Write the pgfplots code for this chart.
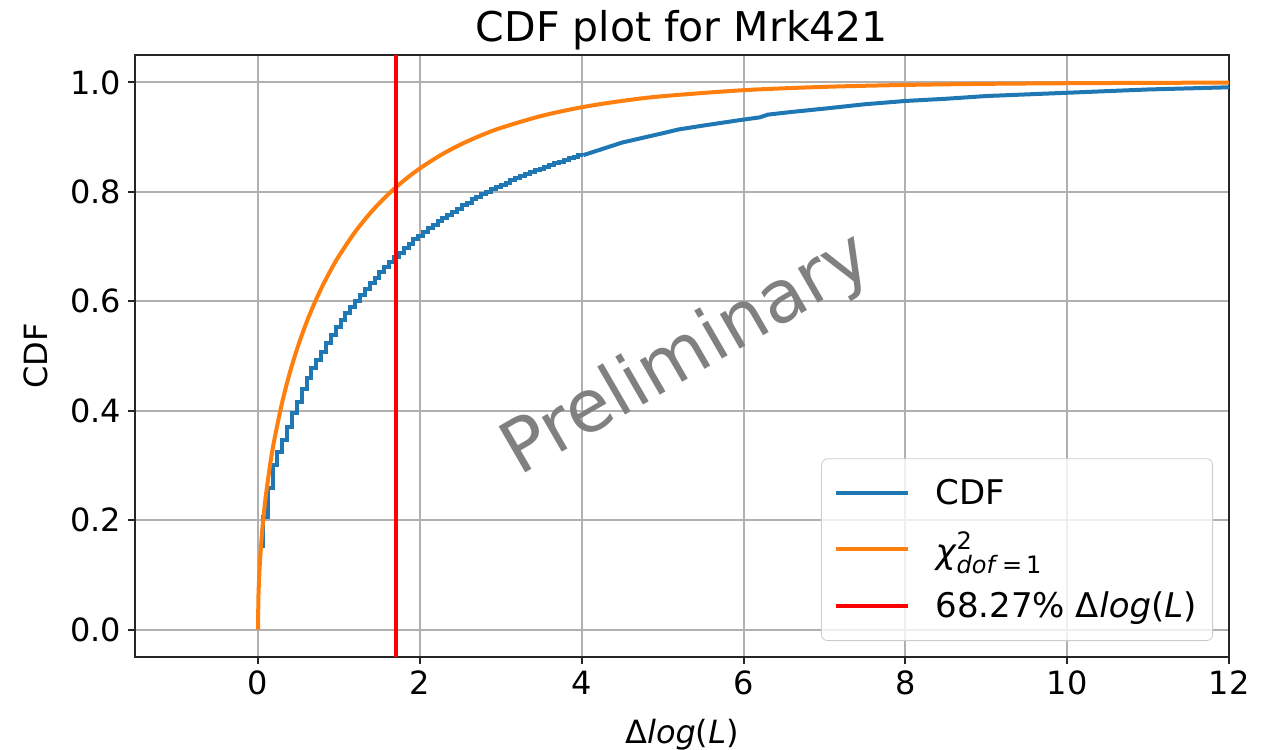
\documentclass[border=0pt]{standalone}
\usepackage{fontspec}
\setmainfont{DejaVu Sans}
\usepackage{pgfplots}
\pgfplotsset{compat=1.18}
\usetikzlibrary{calc}
\definecolor{mplblue}{HTML}{1F77B4}
\definecolor{mplorange}{HTML}{FF7F0E}
\definecolor{gridgray}{HTML}{B0B0B0}
\begin{document}
\begin{tikzpicture}
\begin{axis}[
  scale only axis, width=547pt, height=301pt,
  xmin=-1.52, xmax=12, ymin=-0.05, ymax=1.05,
  xtick={0,2,4,6,8,10,12}, ytick={0,0.2,0.4,0.6,0.8,1.0},
  yticklabel style={/pgf/number format/.cd, fixed, fixed zerofill, precision=1},
  /pgf/number format/assume math mode=true,
  tick label style={font=\fontsize{16}{19}\selectfont},
  label style={font=\fontsize{16}{19}\selectfont},
  xlabel={Δ\textit{log}(\textit{L})},
  ylabel={CDF},
  xlabel style={yshift=-5pt},
  ylabel style={yshift=4pt},
  grid=major,
  major grid style={gridgray, line width=1pt},
  axis line style={black!85, line width=1pt},
  tick style={black!85, line width=1pt},
  major tick length=3.5pt,
  tick align=outside,
  tick pos=left,
  legend cell align=left,
  legend style={at={(1,0)}, anchor=south east, xshift=-8pt, yshift=8pt,
    draw=black!20, rounded corners=3pt, fill=white, fill opacity=0.8, text opacity=1,
    font=\fontsize{17}{20}\selectfont, row sep=8.5pt, inner xsep=6pt, inner ysep=8pt,
    /tikz/every odd column/.append style={column sep=11pt}},
  legend image code/.code={\draw[#1, line width=2pt] (0pt,0pt) -- (36pt,0pt);},
]
\addplot[mplblue, line width=2pt, const plot mark right] coordinates {
(0.06,0.150)(0.12,0.206)(0.18,0.259)(0.24,0.300)(0.30,0.325)(0.36,0.347)
(0.42,0.370)(0.48,0.396)(0.54,0.416)(0.60,0.440)(0.66,0.460)(0.72,0.478)
(0.78,0.492)(0.84,0.507)(0.90,0.523)(0.96,0.538)(1.02,0.553)(1.08,0.565)
(1.14,0.578)(1.20,0.590)(1.26,0.601)(1.32,0.612)(1.38,0.623)(1.44,0.633)
(1.50,0.643)(1.56,0.653)(1.62,0.663)(1.68,0.672)(1.74,0.681)(1.80,0.689)
(1.86,0.697)(1.92,0.705)(1.98,0.713)(2.04,0.720)(2.10,0.727)(2.16,0.734)
(2.22,0.740)(2.28,0.746)(2.34,0.752)(2.40,0.758)(2.46,0.764)(2.52,0.769)
(2.58,0.775)(2.64,0.780)(2.70,0.786)(2.76,0.791)(2.82,0.796)(2.88,0.800)
(2.94,0.805)(3.00,0.809)(3.06,0.813)(3.12,0.817)(3.18,0.821)(3.24,0.825)
(3.30,0.828)(3.36,0.832)(3.42,0.836)(3.48,0.839)(3.54,0.842)(3.60,0.846)
(3.66,0.849)(3.72,0.852)(3.78,0.855)(3.84,0.858)(3.90,0.861)(3.96,0.864)
(4.02,0.867)
};
\addlegendentry{CDF}
\addplot[mplorange, line width=2pt, smooth] coordinates {
(0,0)(0.005,0.0564)(0.01,0.0796)(0.02,0.1125)(0.03,0.1375)(0.05,0.1769)
(0.075,0.2158)(0.1,0.2482)(0.15,0.3015)(0.2,0.3453)(0.3,0.4161)(0.4,0.4729)
(0.5,0.5205)(0.6,0.5614)(0.7,0.5972)(0.8,0.6289)(0.9,0.6572)(1.0,0.6827)
(1.2,0.7267)(1.4,0.7633)(1.6,0.7941)(1.8,0.8203)(2.0,0.8427)(2.25,0.8664)
(2.5,0.8862)(2.75,0.9027)(3.0,0.9167)(3.5,0.9386)(4.0,0.9545)(4.5,0.9661)
(5.0,0.9747)(6.0,0.9857)(7.0,0.9918)(8.0,0.9953)(9.0,0.9973)(10.0,0.9984)
(11.0,0.9991)(12.0,0.9995)
};
\addlegendentry{\textit{χ}\rlap{\raisebox{0.75ex}{\fontsize{12}{13}\selectfont 2}}\raisebox{-0.55ex}{\fontsize{12}{13}\selectfont\textit{dof}\,=\,1}}
\addplot[red, line width=2pt] coordinates {(1.70,-0.05)(1.70,1.05)};
\addlegendentry{68.27\% Δ\textit{log}(\textit{L})}
\addplot[mplblue, line width=2pt, forget plot] coordinates {
(4.02,0.867)(4.5,0.890)(5.0,0.907)(5.2,0.914)(5.5,0.921)(6.0,0.932)(6.2,0.936)
(6.3,0.941)(6.6,0.946)(7.0,0.952)(7.5,0.960)(8.0,0.966)(8.5,0.970)(9.0,0.975)
(9.5,0.978)(10.0,0.981)(10.5,0.984)(11.0,0.987)(11.5,0.989)(12.0,0.991)
};
\node[rotate=30, text=black!50, font=\fontsize{36.5}{40}\selectfont] at (axis cs:5.31,0.50) {Preliminary};
\end{axis}
\node[anchor=base, font=\fontsize{20.5}{24}\selectfont, inner sep=0pt] at ($(current axis.north)+(0,6.5pt)$) {CDF plot for Mrk421};
\pgfresetboundingbox
\useasboundingbox ($(current axis.south west)+(-67.5pt,-46pt)$) rectangle ($(current axis.north east)+(22pt,27.5pt)$);
\end{tikzpicture}
\end{document}
